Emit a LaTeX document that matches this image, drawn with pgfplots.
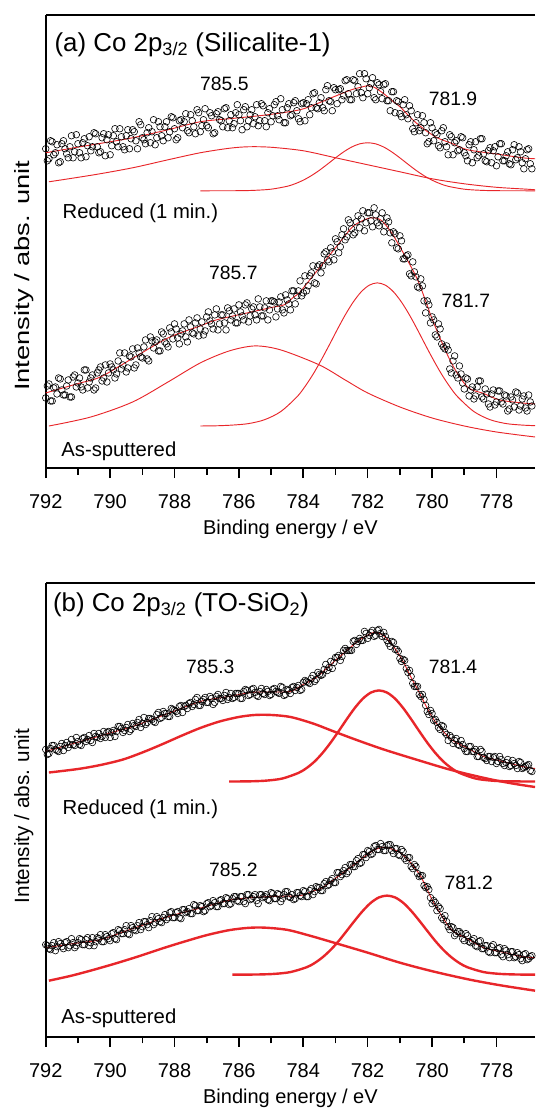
\documentclass[border=0pt]{standalone}
\usepackage{fontspec}
\setmainfont{Liberation Sans}
\usepackage{pgfplots}
\pgfplotsset{compat=1.18}
\definecolor{fitred}{RGB}{232,38,42}

\pgfplotsset{
  xps/.style={
    scale only axis, width=367pt, height=340pt,
    x dir=reverse, xmin=776.8, xmax=792, ymin=0, ymax=453,
    axis x line*=box, axis y line*=left,
    xtick={778,780,...,792}, minor x tick num=1, xtick pos=bottom,
    ytick=\empty, tick align=outside,
    major tick length=7.5pt, minor tick length=5pt,
    every tick/.style={black, line width=1.2pt},
    axis line style={line width=1.4pt},
    /pgf/number format/assume math mode=true,
    /pgf/number format/1000 sep={},
    tick label style={font=\fontsize{15}{18}\selectfont},
    xticklabel style={yshift=-9pt},
    xlabel={Binding energy / eV},
    xlabel style={font=\fontsize{15}{18}\selectfont, at={(axis description cs:0.5,0)}, anchor=center, yshift=-46pt},
    clip marker paths=false,
  },
  pts/.style={only marks, mark=o, mark size=2.5pt, mark options={black, line width=0.45pt}},
  env/.style={fitred, line width=0.7pt, smooth, no marks},
  compa/.style={fitred, line width=0.7pt, smooth, no marks},
  compb/.style={fitred, line width=1.8pt, smooth, no marks},
}
\tikzset{
  lab/.style={font=\fontsize{14.5}{17}\selectfont},
  samp/.style={font=\fontsize{15.2}{18}\selectfont, anchor=west},
  ttl/.style={font=\fontsize{19.4}{23}\selectfont, anchor=west},
}

\begin{document}
\begin{tikzpicture}
\path[use as bounding box] (-34.3pt,-54.2pt) rectangle (367pt,777.5pt);

% ---------------- (a) Silicalite-1 ----------------
\begin{axis}[xps, at={(0,426.5pt)}, anchor=south west,
  ylabel={\scalebox{1.32}[1]{Intensity / abs. unit}},
  ylabel style={font=\fontsize{15.5}{18}\selectfont, at={(axis description cs:-0.045,0.424)}, anchor=center}]

% reduced, data
\addplot[pts] coordinates {
(792.0,319)(791.9,309)(791.8,326)(791.7,315)(791.6,305)(791.5,324)(791.4,319)(791.3,310)(791.2,332)(791.1,316)
(791.0,324)(790.9,310)(790.8,329)(790.7,322)(790.6,317)(790.5,335)(790.4,321)(790.3,316)(790.2,334)(790.1,328)
(790.0,313)(789.9,332)(789.8,326)(789.7,339)(789.6,321)(789.5,332)(789.4,319)(789.3,338)(789.2,327)(789.1,346)
(789.0,330)(788.9,324)(788.8,340)(788.7,336)(788.6,323)(788.5,346)(788.4,332)(788.3,341)(788.2,330)(788.1,351)
(788.0,339)(787.9,330)(787.8,348)(787.7,346)(787.6,337)(787.5,353)(787.4,341)(787.3,358)(787.2,336)(787.1,348)
(787.0,342)(786.9,355)(786.8,334)(786.7,354)(786.6,348)(786.5,341)(786.4,360)(786.3,347)(786.2,340)(786.1,355)
(786.0,353)(785.9,338)(785.8,361)(785.7,347)(785.6,358)(785.5,351)(785.4,342)(785.3,364)(785.2,347)(785.1,355)
(785.0,346)(784.9,363)(784.8,352)(784.7,369)(784.6,345)(784.5,360)(784.4,352)(784.3,365)(784.2,357)(784.1,346)
(784.0,365)(783.9,364)(783.8,353)(783.7,374)(783.6,360)(783.5,365)(783.4,360)(783.3,378)(783.2,367)(783.1,357)
(783.0,378)(782.9,378)(782.8,368)(782.7,387)(782.6,374)(782.5,368)(782.4,387)(782.3,381)(782.2,375)(782.1,394)
(782.0,374)(781.9,384)(781.8,370)(781.7,385)(781.6,376)(781.5,383)(781.4,367)(781.3,357)(781.2,376)(781.1,367)
(781.0,354)(780.9,363)(780.8,353)(780.7,362)(780.6,339)(780.5,345)(780.4,337)(780.3,352)(780.2,335)(780.1,326)
(780.0,340)(779.9,335)(779.8,322)(779.7,337)(779.6,326)(779.5,313)(779.4,331)(779.3,325)(779.2,317)(779.1,331)
(779.0,315)(778.9,307)(778.8,326)(778.7,318)(778.6,310)(778.5,329)(778.4,314)(778.3,306)(778.2,320)(778.1,317)
(778.0,302)(777.9,324)(777.8,307)(777.7,312)(777.6,304)(777.5,318)(777.4,308)(777.3,321)(777.2,305)(777.1,309)
(777.0,319)(776.9,299)};
\addplot[pts] coordinates {
(791.95,307)(791.85,327)(791.75,313)(791.65,323)(791.55,306)(791.45,327)(791.35,314)(791.25,321)(791.15,310)(791.05,333)
(790.95,315)(790.85,325)(790.75,311)(790.65,331)(790.55,321)(790.45,334)(790.35,315)(790.25,330)(790.15,312)(790.05,333)
(789.95,322)(789.85,339)(789.75,321)(789.65,331)(789.55,318)(789.45,338)(789.35,329)(789.25,336)(789.15,319)(789.05,343)
(788.95,328)(788.85,335)(788.75,325)(788.65,348)(788.55,330)(788.45,341)(788.35,327)(788.25,346)(788.15,336)(788.05,350)
(787.95,328)(787.85,347)(787.75,340)(787.65,354)(787.55,335)(787.45,347)(787.35,334)(787.25,355)(787.15,342)(787.05,359)
(786.95,340)(786.85,352)(786.75,335)(786.65,356)(786.55,347)(786.45,359)(786.35,340)(786.25,353)(786.15,344)(786.05,363)
(785.95,347)(785.85,358)(785.75,341)(785.65,353)(785.55,344)(785.45,363)(785.35,347)(785.25,362)(785.15,341)(785.05,359)
(784.95,352)(784.85,366)(784.75,348)(784.65,358)(784.55,345)(784.45,364)(784.35,353)(784.25,367)(784.15,349)(784.05,364)
(783.95,347)(783.85,368)(783.75,360)(783.65,375)(783.55,359)(783.45,370)(783.35,357)(783.25,382)(783.15,366)(783.05,380)
(782.95,364)(782.85,379)(782.75,372)(782.65,388)(782.55,368)(782.45,388)(782.35,374)(782.25,394)(782.15,370)(782.05,389)
(781.95,380)(781.85,390)(781.75,368)(781.65,383)(781.55,369)(781.45,384)(781.35,367)(781.25,376)(781.15,355)(781.05,366)
(780.95,351)(780.85,368)(780.75,349)(780.65,357)(780.55,336)(780.45,353)(780.35,340)(780.25,345)(780.15,324)(780.05,345)
(779.95,327)(779.85,333)(779.75,320)(779.65,340)(779.55,321)(779.45,333)(779.35,313)(779.25,327)(779.15,318)(779.05,330)
(778.95,312)(778.85,323)(778.75,305)(778.65,326)(778.55,312)(778.45,329)(778.35,307)(778.25,317)(778.15,305)(778.05,321)
(777.95,311)(777.85,324)(777.75,307)(777.65,316)(777.55,303)(777.45,323)(777.35,310)(777.25,316)(777.15,299)(777.05,318)
(776.95,304)};

% as-sputtered, data
\addplot[pts] coordinates {
(792.0,70)(791.9,84)(791.8,67)(791.7,81)(791.6,90)(791.5,78)(791.4,73)(791.3,88)(791.2,71)(791.1,93)
(791.0,85)(790.9,81)(790.8,98)(790.7,80)(790.6,90)(790.5,78)(790.4,95)(790.3,101)(790.2,90)(790.1,86)
(790.0,104)(789.9,98)(789.8,94)(789.7,115)(789.6,103)(789.5,96)(789.4,112)(789.3,119)(789.2,103)(789.1,115)
(789.0,110)(788.9,128)(788.8,107)(788.7,127)(788.6,126)(788.5,117)(788.4,136)(788.3,126)(788.2,121)(788.1,136)
(788.0,144)(787.9,130)(787.8,134)(787.7,144)(787.6,126)(787.5,141)(787.4,134)(787.3,150)(787.2,139)(787.1,133)
(787.0,151)(786.9,147)(786.8,139)(786.7,159)(786.6,144)(786.5,153)(786.4,138)(786.3,157)(786.2,152)(786.1,145)
(786.0,163)(785.9,152)(785.8,163)(785.7,146)(785.6,159)(785.5,153)(785.4,169)(785.3,152)(785.2,160)(785.1,148)
(785.0,167)(784.9,166)(784.8,159)(784.7,171)(784.6,155)(784.5,168)(784.4,158)(784.3,177)(784.2,172)(784.1,187)
(784.0,175)(783.9,177)(783.8,192)(783.7,202)(783.6,184)(783.5,203)(783.4,202)(783.3,216)(783.2,206)(783.1,216)
(783.0,229)(782.9,215)(782.8,233)(782.7,228)(782.6,248)(782.5,239)(782.4,235)(782.3,252)(782.2,249)(782.1,237)
(782.0,255)(781.9,247)(781.8,260)(781.7,245)(781.6,249)(781.5,236)(781.4,250)(781.3,235)(781.2,236)(781.1,220)
(781.0,232)(780.9,209)(780.8,212)(780.7,194)(780.6,206)(780.5,191)(780.4,180)(780.3,182)(780.2,155)(780.1,163)
(780.0,151)(779.9,133)(779.8,144)(779.7,124)(779.6,119)(779.5,118)(779.4,95)(779.3,112)(779.2,90)(779.1,94)
(779.0,79)(778.9,89)(778.8,78)(778.7,69)(778.6,81)(778.5,87)(778.4,69)(778.3,74)(778.2,61)(778.1,78)
(778.0,66)(777.9,77)(777.8,64)(777.7,72)(777.6,59)(777.5,68)(777.4,76)(777.3,58)(777.2,69)(777.1,60)
(777.0,73)(776.9,62)};
\addplot[pts] coordinates {
(791.95,82)(791.85,67)(791.75,80)(791.65,74)(791.55,89)(791.45,73)(791.35,82)(791.25,71)(791.15,91)(791.05,81)
(790.95,90)(790.85,78)(790.75,98)(790.65,86)(790.55,93)(790.45,80)(790.35,98)(790.25,87)(790.15,103)(790.05,95)
(789.95,101)(789.85,90)(789.75,107)(789.65,99)(789.55,115)(789.45,100)(789.35,111)(789.25,100)(789.15,120)(789.05,111)
(788.95,121)(788.85,109)(788.75,131)(788.65,120)(788.55,128)(788.45,117)(788.35,134)(788.25,124)(788.15,140)(788.05,129)
(787.95,139)(787.85,124)(787.75,137)(787.65,131)(787.55,148)(787.45,135)(787.35,145)(787.25,132)(787.15,146)(787.05,137)
(786.95,156)(786.85,144)(786.75,153)(786.65,138)(786.55,153)(786.45,145)(786.35,160)(786.25,148)(786.15,159)(786.05,145)
(785.95,156)(785.85,148)(785.75,165)(785.65,152)(785.55,161)(785.45,148)(785.35,161)(785.25,152)(785.15,167)(785.05,158)
(784.95,167)(784.85,151)(784.75,166)(784.65,158)(784.55,173)(784.45,164)(784.35,177)(784.25,164)(784.15,177)(784.05,172)
(783.95,192)(783.85,182)(783.75,195)(783.65,185)(783.55,201)(783.45,195)(783.35,214)(783.25,208)(783.15,220)(783.05,208)
(782.95,226)(782.85,221)(782.75,239)(782.65,231)(782.55,245)(782.45,233)(782.35,246)(782.25,240)(782.15,257)(782.05,245)
(781.95,255)(781.85,241)(781.75,253)(781.65,242)(781.55,255)(781.45,242)(781.35,246)(781.25,225)(781.15,234)(781.05,219)
(780.95,227)(780.85,209)(780.75,213)(780.65,192)(780.55,196)(780.45,181)(780.35,189)(780.25,167)(780.15,167)(780.05,145)
(779.95,148)(779.85,131)(779.75,139)(779.65,121)(779.55,122)(779.45,99)(779.35,107)(779.25,93)(779.15,102)(779.05,85)
(778.95,90)(778.85,72)(778.75,81)(778.65,72)(778.55,87)(778.45,71)(778.35,79)(778.25,64)(778.15,74)(778.05,63)
(777.95,77)(777.85,66)(777.75,73)(777.65,57)(777.55,71)(777.45,61)(777.35,75)(777.25,62)(777.15,72)(777.05,57)
(776.95,66)};

% reduced, fit components and envelope
\addplot[compa] coordinates {(791.9,286)(790.5,293)(789.3,300)(788.2,308)(787.2,315)(786.3,319.5)(785.7,321)(785.0,320.5)(784.0,317)(783.0,310)(782.0,303)(781.0,296)(780.0,289)(779.0,284)(778.0,280.5)(777.0,278.5)(776.8,278)};
\addplot[compa] coordinates {(787.2,277)(786.0,277.1)(785.5,277.5)(785.0,278.6)(784.5,281.5)(784.25,284.1)(784.0,287.6)(783.75,292.1)(783.5,297.5)(783.25,303.6)(783.0,309.9)(782.75,315.8)(782.5,320.7)(782.25,323.9)(782.0,325)(781.75,323.9)(781.5,320.7)(781.25,315.8)(781.0,309.9)(780.75,303.6)(780.5,297.5)(780.25,292.1)(780.0,287.6)(779.75,284.1)(779.5,281.5)(779.0,278.6)(778.5,277.5)(778.0,277.1)(776.8,277)};
\addplot[env] coordinates {(792,315)(791,320.6)(790,326)(789.3,330)(788.2,338)(787.2,346)(786.2,349.3)(785.1,353)(784.1,358)(783.5,365)(783.05,371)(782.5,378)(782.2,380.5)(782,382)(781.8,380.5)(781.5,374)(781.2,366)(781,361)(780.5,345)(779.9,331)(779.4,324.5)(778.9,318)(778,313.8)(777.2,310)(776.8,309)};

% as-sputtered, fit components and envelope
\addplot[compa] coordinates {(791.9,42)(790.6,51)(789.3,66)(788.2,86)(787.2,105)(786.3,117)(785.5,122)(784.7,118)(783.5,103)(782.7,88)(782.0,75)(781.0,61)(780.0,50)(779.0,42)(778.0,36)(776.8,31)};
\addplot[compa] coordinates {(787.2,42)(786.7,42.2)(786.2,42.9)(785.7,44.4)(785.2,48.3)(784.7,56.4)(784.2,71)(783.95,81.3)(783.7,93.5)(783.45,107.5)(783.2,122.5)(782.95,138)(782.7,152.8)(782.45,165.8)(782.2,176.1)(781.95,182.7)(781.7,185)(781.45,182.7)(781.2,176.1)(780.95,165.8)(780.7,152.8)(780.45,138)(780.2,122.5)(779.95,107.5)(779.7,93.5)(779.45,81.3)(779.2,71)(778.7,56.4)(778.2,48.3)(777.7,44.4)(777.2,42.9)(776.8,42.3)};
\addplot[env] coordinates {(792,75)(791,84.4)(790.3,91)(789.3,109.6)(788.2,130)(787.2,142)(786.7,148)(785.6,156)(784.9,161)(784.6,163)(784.3,170.8)(784.1,176)(783.6,196)(783.05,218)(782.5,240)(782.2,246.5)(781.9,250)(781.6,248)(781.3,237)(781,221)(780.45,188)(779.95,145)(779.4,105)(778.9,81)(778.4,74.5)(777.9,68)(777.2,65)(776.8,64)};

\node[ttl] at (axis cs:791.87,423) {(a) Co 2p\textsubscript{3/2} (Silicalite-1)};
\node[lab] at (axis cs:786.45,384) {785.5};
\node[lab] at (axis cs:779.35,369) {781.9};
\node[samp] at (axis cs:791.62,255) {Reduced (1 min.)};
\node[lab] at (axis cs:786.17,195) {785.7};
\node[lab] at (axis cs:778.95,167) {781.7};
\node[samp] at (axis cs:791.66,17) {As-sputtered};
\end{axis}

% ---------------- (b) TO-SiO2 ----------------
\begin{axis}[xps, at={(0,0)}, anchor=south west,
  ylabel={Intensity / abs. unit},
  ylabel style={font=\fontsize{15.5}{18}\selectfont, at={(axis description cs:-0.045,0.487)}, anchor=center}]

% reduced, data
\addplot[pts] coordinates {
(792.0,287)(791.9,283)(791.8,291)(791.7,287)(791.6,285)(791.5,293)(791.4,291)(791.3,289)(791.2,297)(791.1,291)
(791.0,295)(790.9,291)(790.8,299)(790.7,297)(790.6,296)(790.5,303)(790.4,299)(790.3,298)(790.2,305)(790.1,304)
(790.0,299)(789.9,306)(789.8,305)(789.7,310)(789.6,304)(789.5,309)(789.4,305)(789.3,313)(789.2,310)(789.1,317)
(789.0,313)(788.9,312)(788.8,318)(788.7,317)(788.6,314)(788.5,324)(788.4,319)(788.3,323)(788.2,320)(788.1,328)
(788.0,326)(787.9,323)(787.8,331)(787.7,330)(787.6,328)(787.5,334)(787.4,332)(787.3,339)(787.2,331)(787.1,337)
(787.0,334)(786.9,340)(786.8,332)(786.7,340)(786.6,338)(786.5,336)(786.4,344)(786.3,339)(786.2,338)(786.1,343)
(786.0,343)(785.9,338)(785.8,347)(785.7,341)(785.6,347)(785.5,344)(785.4,340)(785.3,348)(785.2,342)(785.1,345)
(785.0,342)(784.9,348)(784.8,344)(784.7,350)(784.6,341)(784.5,347)(784.4,343)(784.3,350)(784.2,349)(784.1,346)
(784.0,354)(783.9,355)(783.8,353)(783.7,361)(783.6,357)(783.5,362)(783.4,362)(783.3,372)(783.2,369)(783.1,368)
(783.0,379)(782.9,381)(782.8,380)(782.7,388)(782.6,386)(782.5,386)(782.4,396)(782.3,395)(782.2,396)(782.1,405)
(782.0,398)(781.9,404)(781.8,400)(781.7,406)(781.6,403)(781.5,404)(781.4,396)(781.3,390)(781.2,394)(781.1,387)
(781.0,378)(780.9,377)(780.8,368)(780.7,366)(780.6,353)(780.5,350)(780.4,342)(780.3,342)(780.2,331)(780.1,322)
(780.0,323)(779.9,317)(779.8,309)(779.7,311)(779.6,304)(779.5,296)(779.4,299)(779.3,296)(779.2,292)(779.1,296)
(779.0,288)(778.9,285)(778.8,290)(778.7,285)(778.6,280)(778.5,287)(778.4,279)(778.3,276)(778.2,280)(778.1,279)
(778.0,273)(777.9,280)(777.8,273)(777.7,274)(777.6,270)(777.5,276)(777.4,271)(777.3,275)(777.2,268)(777.1,270)
(777.0,272)(776.9,265)};
\addplot[pts] coordinates {
(791.95,282)(791.85,288)(791.75,291)(791.65,286)(791.55,290)(791.45,286)(791.35,294)(791.25,292)(791.15,292)(791.05,299)
(790.95,292)(790.85,298)(790.75,295)(790.65,301)(790.55,294)(790.45,300)(790.35,303)(790.25,300)(790.15,299)(790.05,305)
(789.95,304)(789.85,300)(789.75,310)(789.65,308)(789.55,306)(789.45,312)(789.35,307)(789.25,311)(789.15,314)(789.05,309)
(788.95,319)(788.85,314)(788.75,318)(788.65,315)(788.55,322)(788.45,318)(788.35,325)(788.25,323)(788.15,320)(788.05,327)
(787.95,325)(787.85,330)(787.75,324)(787.65,331)(787.55,333)(787.45,330)(787.35,337)(787.25,331)(787.15,335)(787.05,339)
(786.95,334)(786.85,338)(786.75,334)(786.65,342)(786.55,338)(786.45,341)(786.35,337)(786.25,343)(786.15,339)(786.05,343)
(785.95,338)(785.85,345)(785.75,346)(785.65,342)(785.55,348)(785.45,341)(785.35,345)(785.25,343)(785.15,347)(785.05,341)
(784.95,347)(784.85,345)(784.75,343)(784.65,349)(784.55,342)(784.45,346)(784.35,349)(784.25,346)(784.15,351)(784.05,347)
(783.95,356)(783.85,354)(783.75,358)(783.65,355)(783.55,364)(783.45,361)(783.35,367)(783.25,366)(783.15,375)(783.05,374)
(782.95,379)(782.85,376)(782.75,386)(782.65,386)(782.55,386)(782.45,395)(782.35,392)(782.25,398)(782.15,396)(782.05,403)
(781.95,401)(781.85,406)(781.75,401)(781.65,407)(781.55,400)(781.45,400)(781.35,393)(781.25,395)(781.15,387)(781.05,385)
(780.95,375)(780.85,376)(780.75,364)(780.65,360)(780.55,350)(780.45,350)(780.35,340)(780.25,337)(780.15,325)(780.05,326)
(779.95,316)(779.85,314)(779.75,307)(779.65,310)(779.55,302)(779.45,301)(779.35,293)(779.25,298)(779.15,291)(779.05,292)
(778.95,285)(778.85,290)(778.75,285)(778.65,287)(778.55,280)(778.45,285)(778.35,278)(778.25,280)(778.15,275)(778.05,280)
(777.95,275)(777.85,277)(777.75,271)(777.65,277)(777.55,271)(777.45,273)(777.35,268)(777.25,274)(777.15,269)(777.05,271)
(776.95,266)};

% as-sputtered, data
\addplot[pts] coordinates {
(792.0,92)(791.9,88)(791.8,91)(791.7,86)(791.6,95)(791.5,90)(791.4,94)(791.3,89)(791.2,98)(791.1,89)
(791.0,94)(790.9,97)(790.8,92)(790.7,99)(790.6,94)(790.5,91)(790.4,99)(790.3,102)(790.2,95)(790.1,100)
(790.0,96)(789.9,104)(789.8,97)(789.7,106)(789.6,103)(789.5,111)(789.4,102)(789.3,109)(789.2,106)(789.1,114)
(789.0,110)(788.9,115)(788.8,109)(788.7,120)(788.6,114)(788.5,118)(788.4,114)(788.3,122)(788.2,119)(788.1,125)
(788.0,119)(787.9,125)(787.8,118)(787.7,127)(787.6,125)(787.5,123)(787.4,132)(787.3,126)(787.2,131)(787.1,125)
(787.0,133)(786.9,130)(786.8,136)(786.7,130)(786.6,136)(786.5,133)(786.4,139)(786.3,132)(786.2,138)(786.1,140)
(786.0,135)(785.9,140)(785.8,133)(785.7,142)(785.6,138)(785.5,142)(785.4,133)(785.3,142)(785.2,140)(785.1,137)
(785.0,144)(784.9,138)(784.8,143)(784.7,135)(784.6,142)(784.5,145)(784.4,139)(784.3,137)(784.2,144)(784.1,141)
(784.0,146)(783.9,140)(783.8,146)(783.7,142)(783.6,150)(783.5,149)(783.4,146)(783.3,155)(783.2,152)(783.1,158)
(783.0,154)(782.9,164)(782.8,162)(782.7,169)(782.6,165)(782.5,172)(782.4,170)(782.3,178)(782.2,174)(782.1,182)
(782.0,186)(781.9,182)(781.8,190)(781.7,187)(781.6,193)(781.5,186)(781.4,191)(781.3,192)(781.2,183)(781.1,188)
(781.0,181)(780.9,185)(780.8,176)(780.7,179)(780.6,168)(780.5,170)(780.4,160)(780.3,161)(780.2,149)(780.1,147)
(780.0,133)(779.9,134)(779.8,130)(779.7,119)(779.6,121)(779.5,110)(779.4,110)(779.3,101)(779.2,105)(779.1,103)
(779.0,96)(778.9,101)(778.8,94)(778.7,98)(778.6,90)(778.5,96)(778.4,88)(778.3,91)(778.2,84)(778.1,92)
(778.0,84)(777.9,89)(777.8,80)(777.7,86)(777.6,79)(777.5,85)(777.4,80)(777.3,82)(777.2,76)(777.1,83)
(777.0,78)(776.9,81)};
\addplot[pts] coordinates {
(791.95,91)(791.85,87)(791.75,94)(791.65,90)(791.55,93)(791.45,88)(791.35,95)(791.25,91)(791.15,94)(791.05,91)
(790.95,98)(790.85,92)(790.75,97)(790.65,91)(790.55,99)(790.45,95)(790.35,98)(790.25,95)(790.15,102)(790.05,98)
(789.95,103)(789.85,98)(789.75,107)(789.65,103)(789.55,107)(789.45,103)(789.35,111)(789.25,107)(789.15,111)(789.05,107)
(788.95,115)(788.85,112)(788.75,116)(788.65,112)(788.55,120)(788.45,115)(788.35,119)(788.25,117)(788.15,124)(788.05,119)
(787.95,124)(787.85,119)(787.75,127)(787.65,124)(787.55,128)(787.45,123)(787.35,131)(787.25,126)(787.15,130)(787.05,126)
(786.95,134)(786.85,131)(786.75,134)(786.65,130)(786.55,137)(786.45,133)(786.35,138)(786.25,133)(786.15,140)(786.05,136)
(785.95,140)(785.85,135)(785.75,142)(785.65,137)(785.55,140)(785.45,136)(785.35,142)(785.25,139)(785.15,142)(785.05,136)
(784.95,143)(784.85,138)(784.75,142)(784.65,138)(784.55,145)(784.45,140)(784.35,142)(784.25,138)(784.15,144)(784.05,140)
(783.95,145)(783.85,140)(783.75,148)(783.65,145)(783.55,149)(783.45,146)(783.35,153)(783.25,151)(783.15,156)(783.05,154)
(782.95,164)(782.85,160)(782.75,166)(782.65,163)(782.55,172)(782.45,170)(782.35,176)(782.25,173)(782.15,182)(782.05,179)
(781.95,185)(781.85,183)(781.75,191)(781.65,187)(781.55,190)(781.45,186)(781.35,192)(781.25,186)(781.15,188)(781.05,182)
(780.95,187)(780.85,178)(780.75,179)(780.65,170)(780.55,172)(780.45,163)(780.35,161)(780.25,151)(780.15,150)(780.05,139)
(779.95,136)(779.85,126)(779.75,128)(779.65,117)(779.55,115)(779.45,107)(779.35,109)(779.25,103)(779.15,105)(779.05,98)
(778.95,103)(778.85,95)(778.75,96)(778.65,91)(778.55,95)(778.45,88)(778.35,91)(778.25,85)(778.15,90)(778.05,84)
(777.95,88)(777.85,82)(777.75,88)(777.65,82)(777.55,85)(777.45,79)(777.35,84)(777.25,78)(777.15,82)(777.05,77)
(776.95,80)};

% reduced, fit components and envelope
\addplot[compb] coordinates {(791.9,264)(791.0,267.5)(790.3,271.5)(789.6,277)(789.0,284)(788.4,292)(787.8,300.5)(787.2,308.5)(786.6,315)(786.0,319.5)(785.5,321.5)(785.0,321.5)(784.4,319.5)(783.7,313)(783.05,305)(782.3,296)(781.5,287)(780.5,277)(779.4,266.5)(778.3,258)(777.5,253)(776.8,249.5)};
\addplot[compb] coordinates {(786.3,255)(785.65,255.2)(785.15,255.9)(784.65,258)(784.15,263.6)(783.9,268.4)(783.65,275)(783.4,283.6)(783.15,293.9)(782.9,305.4)(782.65,317.3)(782.4,328.5)(782.15,337.8)(781.9,343.9)(781.65,346)(781.4,343.9)(781.15,337.8)(780.9,328.5)(780.65,317.3)(780.4,305.4)(780.15,293.9)(779.9,283.6)(779.65,275)(779.4,268.4)(779.15,263.6)(778.65,258)(778.15,255.9)(777.65,255.2)(776.8,255)};
\addplot[env] coordinates {(792,285)(791,294.3)(790,303.5)(789.3,310)(788.2,323)(787.2,335)(786.4,339.5)(785.6,344)(785,344.5)(784.4,345)(784,352)(783.6,359)(783,376)(782.5,390)(782.2,397.5)(781.8,404)(781.5,400.5)(781.2,390)(780.9,375)(780.7,362)(780.45,347)(779.95,317)(779.4,297)(778.9,288.5)(778.4,280)(777.8,275)(777.2,270)(776.8,268)};

% as-sputtered, fit components and envelope
\addplot[compb] coordinates {(791.9,56)(791.2,61)(790.5,67)(789.8,73.5)(789.1,80.5)(788.4,88)(787.7,95)(787.0,101.5)(786.3,106.5)(785.7,108.8)(785.2,109)(784.5,106.8)(783.8,101)(783.05,94)(782.0,84)(781.0,74)(780.0,65.5)(778.9,57.5)(777.9,51.5)(776.8,46)};
\addplot[compb] coordinates {(786.2,62)(785.4,62.2)(784.9,62.8)(784.4,64.6)(783.9,69.4)(783.65,73.6)(783.4,79.4)(783.15,86.8)(782.9,95.7)(782.65,105.8)(782.4,116.1)(782.15,125.8)(781.9,133.9)(781.65,139.2)(781.4,141)(781.15,139.2)(780.9,133.9)(780.65,125.8)(780.4,116.1)(780.15,105.8)(779.9,95.7)(779.65,86.8)(779.4,79.4)(779.15,73.6)(778.9,69.4)(778.4,64.6)(777.9,62.8)(777.4,62.2)(776.8,62)};
\addplot[env] coordinates {(792,89)(791,93.7)(790.3,97)(789.3,108)(788.2,120)(787.2,128.5)(786.2,137)(785.1,140)(784.1,141)(783.7,145.6)(783.4,149)(782.9,160.7)(782.5,170)(782.1,180)(781.8,186.5)(781.5,189.3)(781.2,187)(781,184)(780.7,175)(780.35,160)(779.95,134)(779.4,107)(778.9,98)(778.4,89)(777.8,84.5)(777.2,80)(776.8,79)};

\node[ttl] at (axis cs:791.92,432) {(b) Co 2p\textsubscript{3/2} (TO-SiO\textsubscript{2})};
\node[lab] at (axis cs:786.89,370) {785.3};
\node[lab] at (axis cs:779.35,370) {781.4};
\node[samp] at (axis cs:791.62,227) {Reduced (1 min.)};
\node[lab] at (axis cs:786.17,167) {785.2};
\node[lab] at (axis cs:778.86,154) {781.2};
\node[samp] at (axis cs:791.66,18) {As-sputtered};
\end{axis}
\end{tikzpicture}
\end{document}
